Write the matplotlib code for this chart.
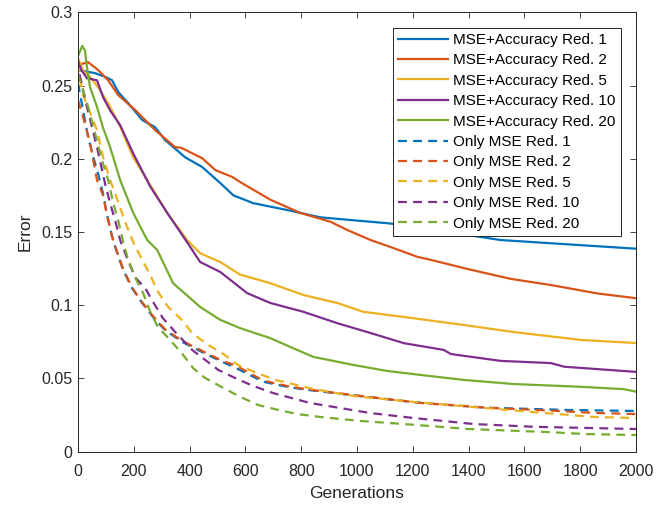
import numpy as np
import matplotlib
matplotlib.use("Agg")
import matplotlib.pyplot as plt
from matplotlib.ticker import FuncFormatter

plt.rcParams['font.family'] = ['Liberation Sans', 'DejaVu Sans']

# colores por defecto de MATLAB
COLORS = ['#0072BD', '#D95319', '#EDB120', '#7E2F8E', '#77AC30']
REDS = [1, 2, 5, 10, 20]

# MSE+Accuracy (solid)
acc_g1 = [0, 60, 97, 122, 144, 180, 230, 276, 312, 384, 445, 510, 557, 628, 750, 869, 988, 1109, 1200, 1360, 1395, 1515, 1623, 1803, 2000]
acc_e1 = [0.2606, 0.2585, 0.256, 0.2536, 0.2456, 0.238, 0.2265, 0.2216, 0.2128, 0.201, 0.1944, 0.1834, 0.175, 0.1697, 0.165, 0.160, 0.158, 0.156, 0.154, 0.151, 0.148, 0.1445, 0.1432, 0.141, 0.1386]

acc_g2 = [0, 36, 72, 108, 144, 205, 276, 348, 370, 445, 492, 553, 582, 690, 797, 905, 966, 1049, 1131, 1217, 1264, 1397, 1551, 1695, 1863, 2000]
acc_e2 = [0.264, 0.266, 0.2606, 0.2536, 0.2435, 0.2333, 0.2196, 0.208, 0.2075, 0.2004, 0.1923, 0.1876, 0.184, 0.172, 0.163, 0.157, 0.1513, 0.1445, 0.139, 0.133, 0.131, 0.1247, 0.118, 0.1138, 0.108, 0.1048]

acc_g5 = [0, 18, 43, 79, 115, 151, 198, 259, 320, 391, 438, 510, 580, 690, 808, 930, 1023, 1168, 1383, 1562, 1803, 2000]
acc_e5 = [0.2688, 0.26, 0.256, 0.247, 0.2355, 0.222, 0.201, 0.182, 0.163, 0.1445, 0.1355, 0.1295, 0.121, 0.115, 0.107, 0.1015, 0.0955, 0.092, 0.0865, 0.0817, 0.0763, 0.0742]

acc_g10 = [0, 14, 32, 68, 90, 115, 151, 198, 259, 320, 391, 438, 510, 606, 690, 808, 930, 1049, 1168, 1311, 1336, 1515, 1695, 1743, 2000]
acc_e10 = [0.266, 0.26, 0.255, 0.2536, 0.242, 0.233, 0.223, 0.2036, 0.181, 0.163, 0.143, 0.1295, 0.1227, 0.1083, 0.1015, 0.0955, 0.0877, 0.081, 0.0741, 0.0695, 0.0667, 0.062, 0.0605, 0.058, 0.0545]

acc_g20 = [0, 15, 25, 32, 43, 68, 90, 115, 151, 198, 248, 284, 341, 438, 510, 582, 690, 761, 844, 988, 1109, 1228, 1383, 1562, 1803, 1957, 2000]
acc_e20 = [0.270, 0.277, 0.274, 0.263, 0.249, 0.2355, 0.221, 0.208, 0.1855, 0.163, 0.1445, 0.1377, 0.115, 0.0988, 0.090, 0.0843, 0.0775, 0.0715, 0.0647, 0.0592, 0.0551, 0.0524, 0.049, 0.0462, 0.0443, 0.0427, 0.041]

# Only MSE (dashed)
mse_g1 = [0, 36, 55, 73, 90, 103, 122, 139, 162, 194, 230, 269, 312, 373, 445, 517, 557, 665, 750, 822, 1037, 1168, 1228, 1468, 1755, 2000]
mse_e1 = [0.2515, 0.215, 0.201, 0.189, 0.176, 0.163, 0.147, 0.1365, 0.124, 0.1116, 0.1015, 0.092, 0.083, 0.075, 0.068, 0.0613, 0.058, 0.0477, 0.0443, 0.0422, 0.0374, 0.0346, 0.0333, 0.030, 0.0285, 0.0278]

mse_g2 = [0, 25, 43, 68, 90, 103, 122, 139, 162, 194, 230, 269, 312, 373, 445, 517, 564, 665, 750, 822, 1037, 1228, 1468, 1700, 1850, 2000]
mse_e2 = [0.240, 0.224, 0.211, 0.1855, 0.175, 0.162, 0.147, 0.137, 0.1245, 0.112, 0.102, 0.0925, 0.0835, 0.0757, 0.0688, 0.062, 0.059, 0.0485, 0.0448, 0.0425, 0.0375, 0.0333, 0.0300, 0.0280, 0.0265, 0.0257]

mse_g5 = [0, 18, 68, 90, 115, 133, 169, 198, 230, 259, 287, 323, 373, 409, 467, 517, 575, 642, 707, 844, 988, 1203, 1418, 1634, 1850, 2000]
mse_e5 = [0.265, 0.2435, 0.2196, 0.201, 0.1855, 0.1765, 0.157, 0.143, 0.131, 0.1206, 0.109, 0.0988, 0.0898, 0.081, 0.0728, 0.0673, 0.059, 0.0537, 0.049, 0.0428, 0.038, 0.034, 0.0305, 0.027, 0.0237, 0.023]

mse_g10 = [0, 5, 32, 68, 97, 115, 133, 151, 176, 205, 241, 276, 305, 348, 409, 503, 571, 628, 700, 833, 1048, 1203, 1418, 1634, 2000]
mse_e10 = [0.268, 0.258, 0.2355, 0.208, 0.183, 0.1697, 0.158, 0.1445, 0.132, 0.119, 0.1116, 0.100, 0.091, 0.0818, 0.0695, 0.0558, 0.0496, 0.0449, 0.040, 0.0332, 0.0264, 0.023, 0.0189, 0.017, 0.0155]

mse_g20 = [0, 36, 61, 86, 108, 126, 144, 162, 180, 205, 234, 259, 287, 330, 373, 413, 456, 521, 582, 646, 718, 786, 869, 1013, 1217, 1397, 1684, 1828, 2000]
mse_e20 = [0.258, 0.2355, 0.2174, 0.199, 0.1855, 0.170, 0.158, 0.143, 0.131, 0.119, 0.108, 0.0955, 0.085, 0.0763, 0.067, 0.057, 0.0503, 0.0435, 0.0374, 0.0319, 0.0285, 0.0257, 0.0237, 0.021, 0.0182, 0.0155, 0.0134, 0.012, 0.0114]

acc_series = [(acc_g1, acc_e1), (acc_g2, acc_e2), (acc_g5, acc_e5), (acc_g10, acc_e10), (acc_g20, acc_e20)]
mse_series = [(mse_g1, mse_e1), (mse_g2, mse_e2), (mse_g5, mse_e5), (mse_g10, mse_e10), (mse_g20, mse_e20)]

AX_COL = '#262626'

fig = plt.figure(figsize=(6.68, 5.08), dpi=100)
ax = fig.add_axes([78 / 668, 1 - 451.7 / 508, (636 - 78) / 668, (451.7 - 12.3) / 508])

for (g, e), r, c in zip(acc_series, REDS, COLORS):
    ax.plot(g, e, color=c, lw=1.6, label='MSE+Accuracy Red. %d' % r)
for (g, e), r, c in zip(mse_series, REDS, COLORS):
    ax.plot(g, e, color=c, lw=1.6, linestyle=(0, (4, 2.8)), label='Only MSE Red. %d' % r)

ax.set_xlim(0, 2000)
ax.set_ylim(0, 0.3)
ax.set_xticks(np.arange(0, 2001, 200))
ax.set_yticks(np.arange(0, 0.301, 0.05))
ax.yaxis.set_major_formatter(FuncFormatter(lambda v, p: '%g' % round(v, 3)))
ax.tick_params(direction='in', length=4, width=0.6, top=True, right=True,
               labelsize=11.5, colors=AX_COL, labelcolor=AX_COL)
ax.tick_params(axis='x', pad=9)
ax.tick_params(axis='y', pad=4)
for s in ax.spines.values():
    s.set_color(AX_COL)
    s.set_linewidth(0.7)

ax.set_xlabel('Generations', fontsize=12.5, color=AX_COL, labelpad=5)
ax.set_ylabel('Error', fontsize=12.5, color=AX_COL, labelpad=6)

leg = ax.legend(loc='upper right', fontsize=11, frameon=True, fancybox=False,
                framealpha=1, edgecolor=AX_COL, handlelength=3.3, handletextpad=0.3,
                labelspacing=0.42, borderpad=0.35, borderaxespad=1.0)
leg.get_frame().set_linewidth(0.7)

fig.savefig('out.png', dpi=100)
